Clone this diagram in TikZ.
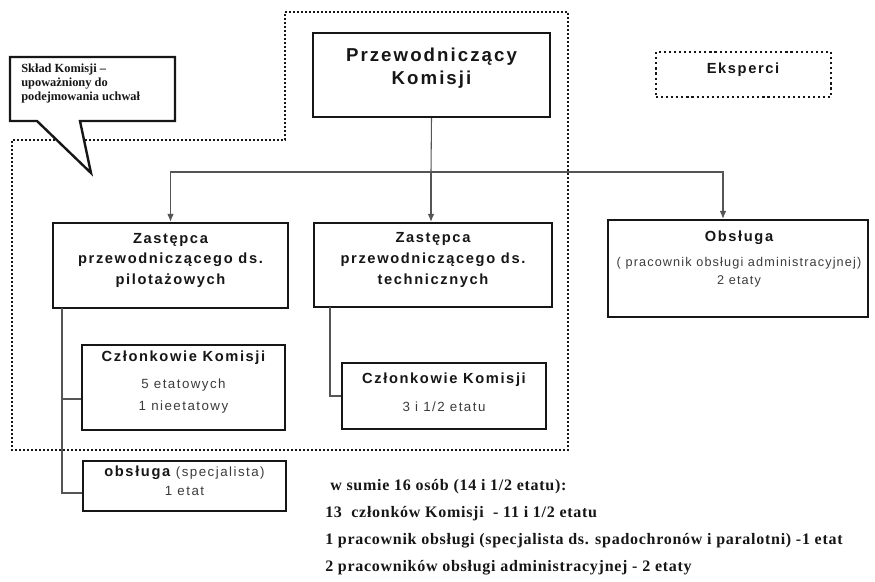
\documentclass[tikz,border=0pt]{standalone}
\usepackage{fontspec}
\setmainfont{Liberation Serif}
\setsansfont{Liberation Sans}
\newfontfamily\spaced{Liberation Sans}[LetterSpace=11]
\newfontfamily\spacedtight{Liberation Sans}[LetterSpace=9]
\newfontfamily\spacedser{Liberation Serif}[LetterSpace=4.5]
\usetikzlibrary{arrows.meta,fit}
\definecolor{ink}{HTML}{161616}
\definecolor{soft}{HTML}{3C3C3C}
\definecolor{wire}{HTML}{555555}
\newcommand\chairfont{\spaced\bfseries\fontsize{14}{17.25}\selectfont}
\newcommand\headfont{\spaced\bfseries\fontsize{11}{15.4}\selectfont}
\newcommand\plainfont{\spaced\mdseries\fontsize{10}{15.4}\selectfont\color{soft}}
\newcommand\smallplain{\spacedtight\mdseries\fontsize{9.5}{15.4}\selectfont\color{soft}}
\newcommand\sumfont{\spacedser\bfseries\fontsize{12}{14}\selectfont}
\newcommand\notefont{\rmfamily\bfseries\fontsize{9.3}{10.5}\selectfont}
\tikzset{
  orgbox/.style={draw=ink, line width=1.8pt, fill=white, inner sep=0pt, align=center, text=ink, font=\headfont},
  dotbox/.style={draw=ink, line width=1.6pt, dash pattern=on 1.6pt off 2.2pt, inner sep=0pt, text=ink},
  region/.style={draw=ink, line width=1.2pt, dash pattern=on 1.2pt off 1.8pt},
  wire/.style={draw=wire, line width=0.8pt},
  arrowin/.style={-{Latex[length=6pt,width=5pt]}},
  calloutline/.style={draw=ink, line width=1.8pt, fill=white, line join=miter},
  sumtext/.style={anchor=west, inner sep=0pt, text=ink, font=\sumfont}
}
\begin{document}
\begin{tikzpicture}[x=0.75pt,y=-0.75pt]
\useasboundingbox (0,0) rectangle (875,582);

% dotted outline of the commission
\draw[region] (285,12) -- (568,12) -- (568,450) -- (12,450) -- (12,140) -- (285,140) -- cycle;

% callout
\draw[calloutline] (10,57) -- (175,57) -- (175,121) -- (80,121) -- (91,173) -- (37,121) -- (10,121) -- cycle;
\node[anchor=west, align=left, inner sep=0pt, text=ink, font=\notefont] (note) at (21,84)
  {Skład Komisji –\\upoważniony do\\podejmowania uchwał};

% boxes
\node[orgbox, fit={(313,33) (550,117)}, font=\chairfont] (chair) {Przewodniczący\\Komisji};
\node[dotbox, fit={(656,52) (831,97)}] (eksp) {};
\node[text=ink, font=\headfont, inner sep=0pt] (eksptext) at (743,70) {Eksperci};

\node[orgbox, fit={(53,223) (288,308)}] (pilot) {Zastępca\\przewodniczącego ds.\\pilotażowych};
\node[orgbox, fit={(314,223) (552,307)}] (tech) {Zastępca\\przewodniczącego ds.\\technicznych};
\node[orgbox, fit={(608,220) (868,317)}] (obs) {};
\node[align=center, inner sep=0pt, text=ink, font=\headfont] (obstext) at (739,259)
  {Obsługa\\[3.4pt]\smallplain ( pracownik obsługi administracyjnej)\\[-1.9pt]\smallplain 2 etaty};

\node[orgbox, fit={(82,345) (285,430)}] (czl1) {Członkowie Komisji\\[4.5pt]\plainfont 5 etatowych\\[1.5pt]\plainfont 1 nieetatowy};
\node[orgbox, fit={(342,363) (546,429)}] (czl2) {\raisebox{-2.5pt}{Członkowie Komisji}\\[6pt]\plainfont\raisebox{-2.5pt}{3 i 1/2 etatu}};
\node[orgbox, fit={(83,461) (286,511)}] (spec) {obsługa {\plainfont (specjalista)}\\[-1pt]\plainfont 1 etat};

% connectors
\coordinate (hub) at (431,172);
\coordinate (obsin) at (723,172);
\draw[wire] (chair.south) -- (hub);
\draw[wire, arrowin] (hub) -| (pilot.north);
\draw[wire, arrowin] (hub) -- (hub |- tech.north);
\draw[wire, arrowin] (hub) -- (obsin) -- (obsin |- obs.north);

\coordinate (pstem) at (62,308);
\draw[wire] (pstem) -- (62,493) -- (spec.west |- 62,493);
\draw[wire] (62,399) -- (czl1.west |- 62,399);
\coordinate (tstem) at (330,307);
\draw[wire] (tstem) |- (czl2.west);

% summary
\node[sumtext] (sum1) at (330,487) {w sumie 16 osób (14 i 1/2 etatu):};
\node[sumtext] (sum2) at (325,514) {13\ \ członków Komisji\ \ - 11 i 1/2 etatu};
\node[sumtext] (sum3) at (325,541) {1 pracownik obsługi (specjalista ds. spadochronów i paralotni) -1 etat};
\node[sumtext] (sum4) at (325,568) {2 pracowników obsługi administracyjnej - 2 etaty};
\end{tikzpicture}
\end{document}
